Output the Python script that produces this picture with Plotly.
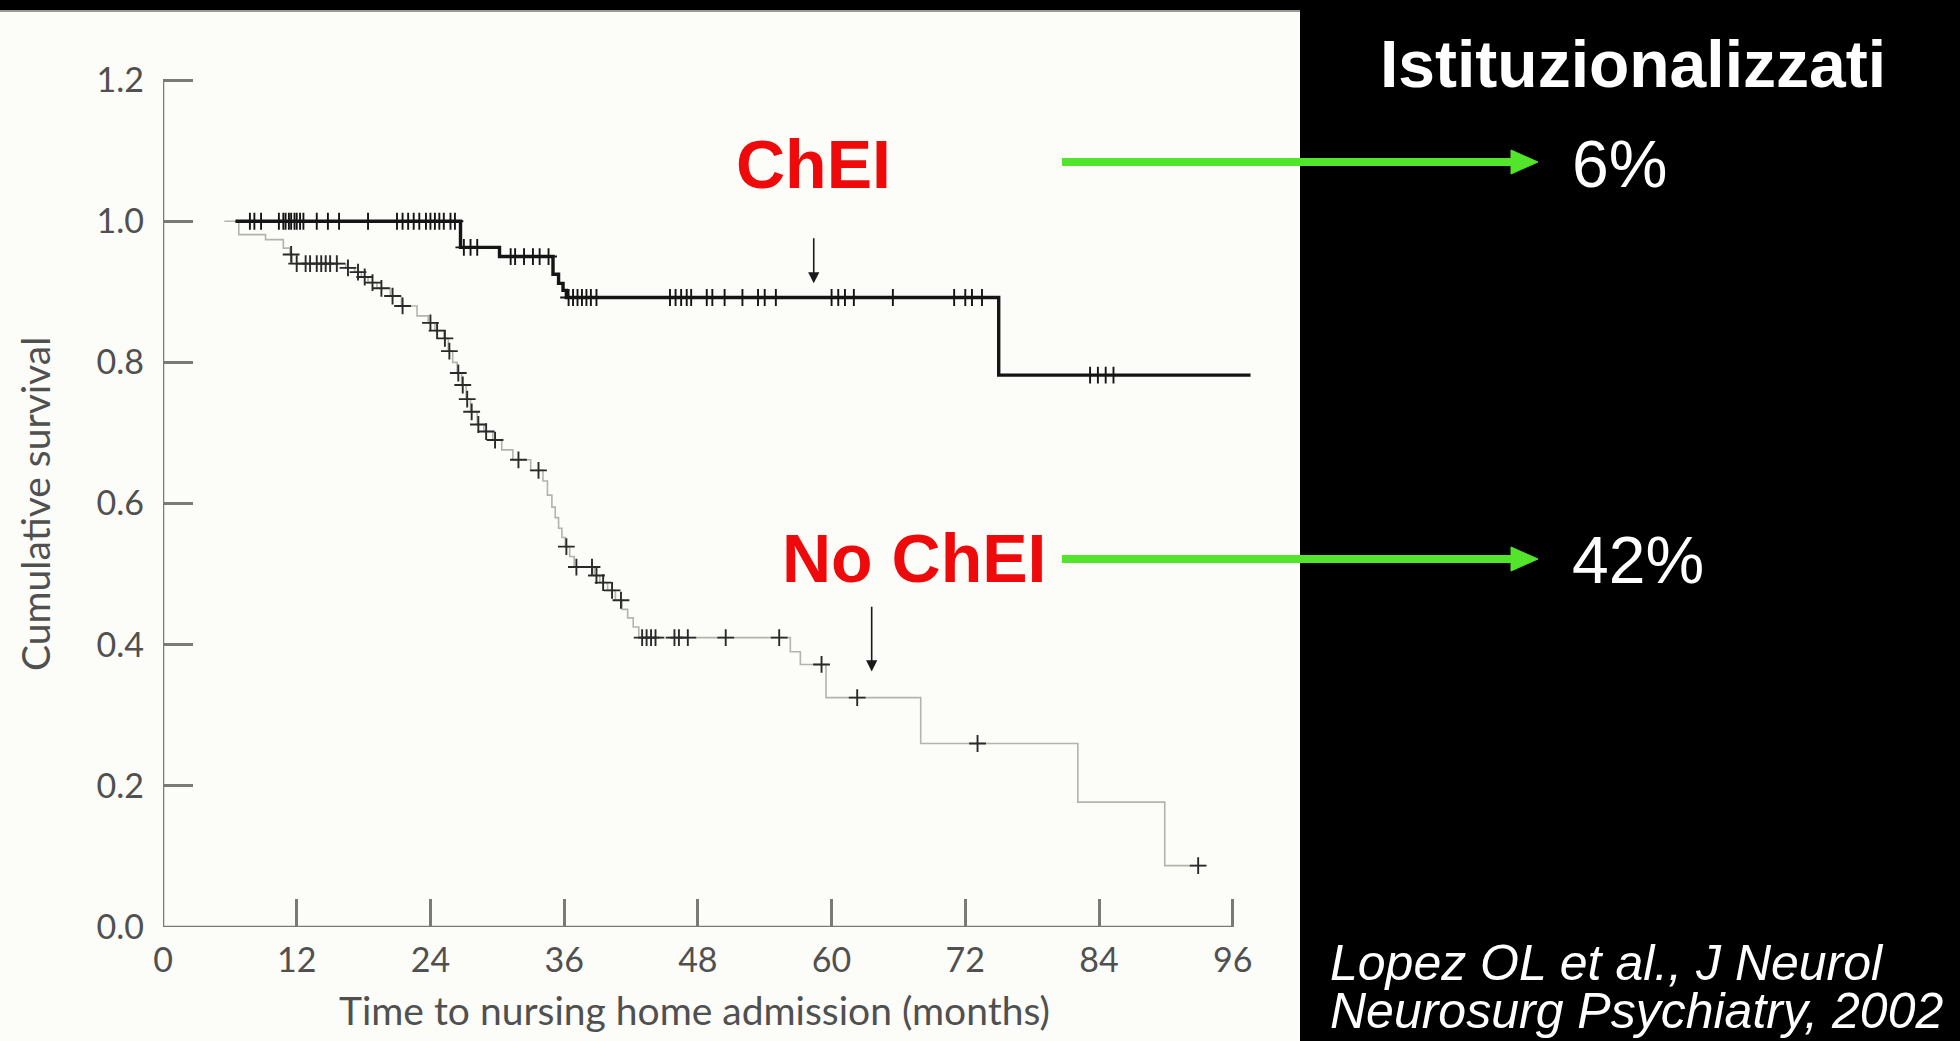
import numpy as np
import plotly.graph_objects as go

# ---------------- data ----------------
# Kaplan-Meier step curves: time (months) at which each level starts, and the level
chei_times = [6.5, 26.7, 30.2, 35.0, 35.5, 35.9, 36.2, 75.0, 97.6]
chei_surv = [1.000, 0.963, 0.950, 0.925, 0.912, 0.902, 0.892, 0.782, 0.782]
chei_censored = [7.8, 8.2, 8.8, 10.4, 10.8, 11.0, 11.3, 11.5, 11.8, 12.0, 12.3, 12.6,
                 13.8, 14.8, 15.8, 18.4, 21.0, 21.5, 22.0, 22.5, 23.0, 23.6, 24.0,
                 24.4, 24.8, 25.2, 25.8, 26.2, 27.0, 27.6, 28.2, 31.2, 31.6, 32.4,
                 33.2, 33.8, 34.6, 36.4, 36.8, 37.2, 37.6, 38.0, 38.4, 38.9, 45.5,
                 46.0, 46.5, 47.0, 47.4, 48.8, 49.3, 50.4, 52.0, 53.4, 54.0, 55.0,
                 60.0, 60.6, 61.2, 62.0, 65.5, 71.0, 72.0, 72.6, 73.5,
                 83.2, 83.9, 84.6, 85.3]

nochei_times = [5.5, 6.8, 9.2, 10.8, 11.4, 11.6, 16.4, 17.2, 17.8, 18.4, 19.2, 20.4,
                21.4, 22.8, 23.8, 24.4, 25.2, 25.6, 26.0, 26.4, 26.8, 27.2, 27.6,
                28.2, 28.8, 29.6, 30.4, 31.4, 33.0, 34.1, 34.5, 34.9, 35.2, 35.5,
                35.8, 36.1, 36.5, 36.9, 38.7, 39.2, 39.9, 40.6, 41.2, 41.7, 42.2,
                42.7, 56.3, 57.2, 59.5, 68.0, 82.1, 89.9, 93.5]
nochei_surv = [1.000, 0.981, 0.974, 0.962, 0.953, 0.940, 0.934, 0.928, 0.921, 0.913,
               0.905, 0.894, 0.880, 0.866, 0.856, 0.845, 0.834, 0.816, 0.800, 0.785,
               0.768, 0.748, 0.730, 0.712, 0.702, 0.690, 0.676, 0.662, 0.647, 0.632,
               0.612, 0.595, 0.580, 0.565, 0.552, 0.539, 0.525, 0.510, 0.498, 0.488,
               0.477, 0.463, 0.450, 0.438, 0.425, 0.410, 0.390, 0.372, 0.325, 0.260,
               0.177, 0.087, 0.087]
nochei_censored = [11.5, 12.0, 12.8, 13.2, 13.8, 14.2, 14.6, 15.0, 15.6, 16.6, 17.5,
                   18.1, 18.8, 19.6, 20.6, 21.5, 24.0, 24.6, 25.3, 25.7, 26.5, 26.9,
                   27.3, 27.7, 28.3, 29.0, 29.8, 31.9, 33.7, 36.2, 37.1, 38.5, 38.9,
                   39.5, 40.3, 41.1, 43.0, 43.4, 43.8, 44.2, 45.9, 46.3, 47.1, 50.5,
                   55.3, 59.1, 62.3, 73.1, 92.9]

x_ticks = [0, 12, 24, 36, 48, 60, 72, 84, 96]
y_ticks = [0.0, 0.2, 0.4, 0.6, 0.8, 1.0, 1.2]
y_ticktext = ["0.0", "0.2", "0.4", "0.6", "0.8", "1.0", "1.2"]

group_labels = ["ChEI", "No ChEI"]
institutionalised = ["6%", "42%"]
panel_title = "Istituzionalizzati"
citation = ["Lopez OL et al., J Neurol", "Neurosurg Psychiatry, 2002"]


def level_at(times, surv, t):
    """Survival level of a right-continuous step curve at time t."""
    idx = np.searchsorted(np.asarray(times), t, side="right") - 1
    return float(np.asarray(surv)[max(idx, 0)])


# ---------------- page geometry ----------------
W, H = 1960, 1041
ML, MR, MT, MB = 163, 705, 66, 114
PW, PH = W - ML - MR, H - MT - MB


def px(xpix):
    return (xpix - ML) / PW


def py(ypix):
    return (H - MB - ypix) / PH


AXIS_GREY = "#7a7a78"
TEXT_GREY = "#505050"
GREEN = "#52e52c"
RED = "#ee0a0a"

fig = go.Figure()

fig.add_trace(go.Scatter(x=nochei_times, y=nochei_surv, mode="lines", line_shape="hv",
                         line=dict(color="#b4b4ac", width=1.6), hoverinfo="skip",
                         showlegend=False))
fig.add_trace(go.Scatter(x=nochei_censored,
                         y=[level_at(nochei_times, nochei_surv, t) for t in nochei_censored],
                         mode="markers",
                         marker=dict(symbol="cross-thin", size=12,
                                     line=dict(color="#2a2a2a", width=1.9)),
                         hoverinfo="skip", showlegend=False))
fig.add_trace(go.Scatter(x=chei_times, y=chei_surv, mode="lines", line_shape="hv",
                         line=dict(color="#151515", width=3.4), hoverinfo="skip",
                         showlegend=False))
fig.add_trace(go.Scatter(x=chei_censored,
                         y=[level_at(chei_times, chei_surv, t) for t in chei_censored],
                         mode="markers",
                         marker=dict(symbol="cross-thin", size=12,
                                     line=dict(color="#151515", width=1.9)),
                         hoverinfo="skip", showlegend=False))

shapes = [
    # white slide panel holding the survival plot
    dict(type="rect", xref="paper", yref="paper", x0=px(0), x1=px(1300),
         y0=py(H), y1=py(11), fillcolor="#fcfcf8", line=dict(width=0), layer="below"),
    dict(type="line", xref="paper", yref="paper", x0=px(0), x1=px(1300),
         y0=py(11), y1=py(11), line=dict(color="#9a9a96", width=2), layer="below"),
    # axis lines
    dict(type="line", xref="x", yref="y", x0=0, x1=96, y0=0, y1=0,
         line=dict(color=AXIS_GREY, width=2.5)),
    dict(type="line", xref="x", yref="y", x0=0, x1=0, y0=0, y1=1.2,
         line=dict(color=AXIS_GREY, width=2.5)),
]

# green arrows pointing from the group labels to the percentages
for yc in (162, 559):
    shapes.append(dict(type="line", xref="paper", yref="paper", x0=px(1062), x1=px(1515),
                       y0=py(yc), y1=py(yc), line=dict(color=GREEN, width=8)))
    shapes.append(dict(type="path", xref="paper", yref="paper",
                       path=f"M {px(1511)},{py(yc - 12)} L {px(1538)},{py(yc)} "
                            f"L {px(1511)},{py(yc + 12)} Z",
                       fillcolor=GREEN, line=dict(color=GREEN, width=1)))


def label(xpix, ypix, text, font, xanchor="center", angle=0):
    return dict(xref="paper", yref="paper", x=px(xpix), y=py(ypix), text=text,
                xanchor=xanchor, yanchor="middle", textangle=angle,
                showarrow=False, font=font)


title_font = dict(family="Lato", size=39, color=TEXT_GREY)
red_font = dict(family="Liberation Sans", size=68, color=RED)
white_font = dict(family="Liberation Sans", size=66, color="white")
cite_font = dict(family="Liberation Sans", size=50, color="white")

annotations = [
    # axis titles
    label(35, 504, "Cumulative survival", title_font, angle=-90),
    label(694, 1010, "Time to nursing home admission (months)", title_font),
    # small black pointers onto the curves
    dict(xref="x", yref="y", x=58.4, y=0.912, axref="x", ayref="y", ax=58.4, ay=0.978,
         showarrow=True, arrowhead=2, arrowsize=1.4, arrowwidth=1.6, arrowcolor="#1a1a1a",
         text=""),
    dict(xref="x", yref="y", x=63.6, y=0.362, axref="x", ayref="y", ax=63.6, ay=0.456,
         showarrow=True, arrowhead=2, arrowsize=1.4, arrowwidth=1.6, arrowcolor="#1a1a1a",
         text=""),
    # group labels
    label(813, 164, "<b>" + group_labels[0] + "</b>", red_font),
    label(914, 558, "<b>" + group_labels[1] + "</b>", red_font),
    # right-hand panel
    label(1633, 64, "<b>" + panel_title + "</b>", white_font),
    label(1570, 164, institutionalised[0], white_font, xanchor="left"),
    label(1570, 560, institutionalised[1], white_font, xanchor="left"),
    label(1328, 963, "<i>" + citation[0] + "</i>", cite_font, xanchor="left"),
    label(1328, 1011, "<i>" + citation[1] + "</i>", cite_font, xanchor="left"),
]

fig.update_layout(
    width=W, height=H,
    margin=dict(l=ML, r=MR, t=MT, b=MB, pad=0),
    paper_bgcolor="black", plot_bgcolor="rgba(0,0,0,0)",
    shapes=shapes, annotations=annotations,
    xaxis=dict(range=[0, 98], tickvals=x_ticks, ticktext=[str(v) for v in x_ticks],
               ticks="inside", ticklen=28, tickwidth=2.5, tickcolor=AXIS_GREY,
               showline=False, showgrid=False, zeroline=False, ticklabelstandoff=10,
               tickfont=dict(family="Lato", size=34, color=TEXT_GREY), fixedrange=True),
    yaxis=dict(range=[0, 1.22], tickvals=y_ticks, ticktext=y_ticktext,
               ticks="inside", ticklen=30, tickwidth=2.5, tickcolor=AXIS_GREY,
               showline=False, showgrid=False, zeroline=False, ticklabelstandoff=18,
               tickfont=dict(family="Lato", size=34, color=TEXT_GREY), fixedrange=True),
)

fig.write_html("out.html")
